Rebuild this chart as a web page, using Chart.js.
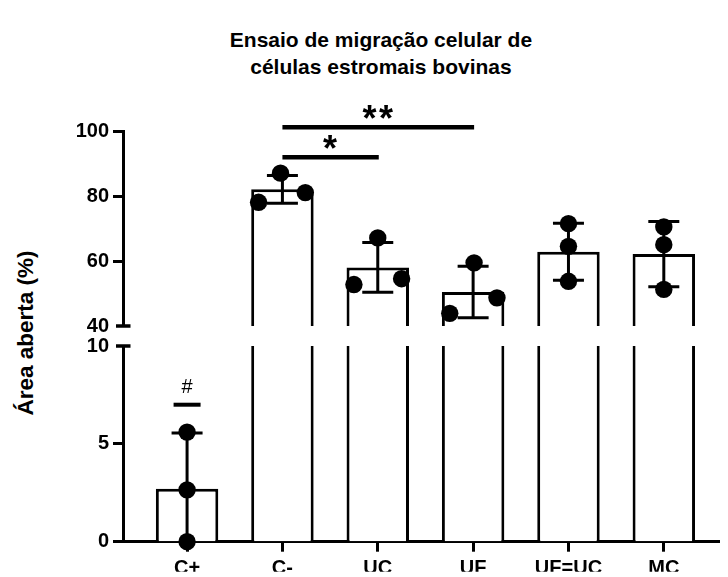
<!DOCTYPE html>
<html><head><meta charset="utf-8">
<script src="https://cdn.jsdelivr.net/npm/chart.js@4.4.1/dist/chart.umd.min.js"></script>
<style>
html,body{margin:0;padding:0;background:#fff;}
#wrap{position:relative;width:728px;height:577px;overflow:hidden;font-family:'Liberation Sans',Arial,sans-serif;background:#fff;}
canvas{position:absolute;left:0;top:0;}
#title{position:absolute;left:181px;top:26px;width:400px;text-align:center;font-weight:bold;font-size:21px;line-height:27px;color:#000;}
#ytitle{position:absolute;left:26px;top:333px;transform:translate(-50%,-50%) rotate(-90deg);white-space:nowrap;font-weight:bold;font-size:22.5px;line-height:26px;color:#000;}
</style></head>
<body><div id="wrap">
<div id="title">Ensaio de migração celular de<br>células estromais bovinas</div>
<div id="ytitle">Área aberta (%)</div>
<canvas id="top" width="728" height="577"></canvas>
<canvas id="bottom" width="728" height="577"></canvas>
</div>
<script>
// ---- data ----
const categories = ['C+', 'C-', 'UC', 'UF', 'UF=UC', 'MC'];
const means = [2.7, 82.2, 58.1, 50.5, 62.9, 62.2];
const sds = [2.85, 4.3, 7.65, 7.95, 8.8, 10.1];
const points = [
  [5.6, 2.65, 0],
  [78.2, 87.2, 81.2],
  [52.8, 67.2, 54.6],
  [43.9, 59.5, 48.7],
  [71.6, 64.6, 53.8],
  [70.6, 65.1, 51.3]
];
const jitter = [
  [0, 0, 0],
  [-0.25, -0.02, 0.24],
  [-0.25, 0, 0.25],
  [-0.245, 0.01, 0.25],
  [0, 0, 0],
  [0, 0, 0]
];
const topTicks = [40, 60, 80, 100];
const bottomTicks = [0, 5, 10];
const sigFrom = [1, 1];
const sigTo = [2, 3];
const sigY = [92.1, 101.4];
const sigText = ['*', '**'];
const hashIndex = 0;
const hashY = 7;
const hashText = '#';

Chart.defaults.font.family = "'Liberation Sans', Arial, sans-serif";
Chart.defaults.color = '#000';

const barData = categories.map((c, i) => ({x: i, y: means[i]}));
const pointData = [];
points.forEach((arr, i) => arr.forEach((v, j) => pointData.push({x: i + jitter[i][j], y: v})));

const errorBars = {
  id: 'errorBars',
  afterDatasetDraw(chart, args) {
    if (args.index !== 0) return;
    const {ctx, chartArea: a, scales: {x, y}} = chart;
    ctx.save();
    ctx.beginPath(); ctx.rect(a.left, a.top, a.right - a.left, a.bottom - a.top); ctx.clip();
    ctx.strokeStyle = '#000'; ctx.lineWidth = 3;
    means.forEach((m, i) => {
      const px = x.getPixelForValue(i);
      const hi = y.getPixelForValue(m + sds[i]);
      const lo = y.getPixelForValue(m - sds[i]);
      ctx.beginPath();
      ctx.moveTo(px, hi); ctx.lineTo(px, lo);
      ctx.moveTo(px - 15.5, hi); ctx.lineTo(px + 15.5, hi);
      ctx.moveTo(px - 15.5, lo); ctx.lineTo(px + 15.5, lo);
      ctx.stroke();
    });
    ctx.restore();
  }
};

const annotations = {
  id: 'annotations',
  afterDraw(chart) {
    const {ctx, chartArea: a, scales: {x, y}} = chart;
    const isBottom = chart.canvas.id === 'bottom';
    ctx.save();
    ctx.fillStyle = '#000'; ctx.strokeStyle = '#000';
    const capV = isBottom ? y.max : y.min;
    const cy = y.getPixelForValue(capV);
    ctx.lineWidth = 3.5;
    ctx.beginPath(); ctx.moveTo(a.left - 7, cy); ctx.lineTo(a.left + 7.5, cy); ctx.stroke();
    if (!isBottom) {
      sigY.forEach((v, k) => {
        const yy = y.getPixelForValue(v);
        const x1 = x.getPixelForValue(sigFrom[k]);
        const x2 = x.getPixelForValue(sigTo[k]);
        ctx.lineWidth = 4.5;
        ctx.beginPath(); ctx.moveTo(x1, yy); ctx.lineTo(x2 + 1, yy); ctx.stroke();
        ctx.font = "bold 36px 'Liberation Sans', Arial, sans-serif";
        ctx.textAlign = 'center'; ctx.textBaseline = 'alphabetic';
        const n = sigText[k].length, cx = (x1 + x2) / 2;
        for (let j = 0; j < n; j++) ctx.fillText(sigText[k][j], cx + (j - (n - 1) / 2) * 16.7, yy + 4);
      });
    } else {
      const hx = x.getPixelForValue(hashIndex);
      const hy = y.getPixelForValue(hashY);
      ctx.lineWidth = 4;
      ctx.beginPath(); ctx.moveTo(hx - 13.5, hy); ctx.lineTo(hx + 13.5, hy); ctx.stroke();
      ctx.font = "20px 'Liberation Sans', Arial, sans-serif";
      ctx.textAlign = 'center'; ctx.textBaseline = 'alphabetic';
      ctx.fillText(hashText, hx, hy - 12);
    }
    ctx.restore();
  }
};

function makeChart(id, lo, hi, ticks, isBottom) {
  const xScale = {
    type: 'linear', min: -0.672, max: 5.582, offset: false, display: isBottom,
    grid: {offset: false, drawOnChartArea: false, drawTicks: true, tickLength: 10, tickWidth: 3, color: '#000'},
    border: {display: true, width: 3, color: '#000'},
    ticks: {font: {size: 20, weight: 'bold'}, color: '#000', padding: 5, maxRotation: 0, autoSkip: false,
      callback: v => categories[v]},
    afterBuildTicks: s => { s.ticks = categories.map((c, i) => ({value: i})); }
  };
  if (isBottom) xScale.afterFit = s => { s.height = 30; };
  return new Chart(document.getElementById(id), {
    type: 'bar',
    data: {
      datasets: [
        {type: 'bar', data: barData, backgroundColor: '#fff', borderColor: '#000', borderWidth: 3,
         borderSkipped: 'start', barPercentage: 0.655, categoryPercentage: 1, clip: 0, order: 2},
        {type: 'scatter', data: pointData, backgroundColor: '#000', borderColor: '#000', borderWidth: 0,
         pointRadius: 8.7, pointHoverRadius: 8.7, clip: 10, order: 0}
      ]
    },
    options: {
      responsive: false, animation: false, events: [],
      layout: {padding: {left: 53, right: 0, top: isBottom ? 346 : 131.7, bottom: isBottom ? 577 - 541.7 - 30 : 577 - 326}},
      plugins: {legend: {display: false}, tooltip: {enabled: false}, title: {display: false}},
      scales: {
        x: xScale,
        y: {
          type: 'linear', min: lo, max: hi,
          afterBuildTicks: s => { s.ticks = ticks.map(v => ({value: v})); },
          grid: {drawOnChartArea: false, drawTicks: true, tickLength: 10, tickWidth: 3, color: '#000',
            tickColor: c => (c.tick && c.tick.value === (isBottom ? hi : lo)) ? 'rgba(0,0,0,0)' : '#000'},
          border: {display: true, width: 3, color: '#000'},
          ticks: {font: {size: 20, weight: 'bold'}, color: '#000', padding: 4},
          afterFit: s => { s.width = 70; }
        }
      }
    },
    plugins: [errorBars, annotations]
  });
}

makeChart('top', 40, 100, topTicks, false);
makeChart('bottom', 0, 10, bottomTicks, true);
</script>
</body></html>
